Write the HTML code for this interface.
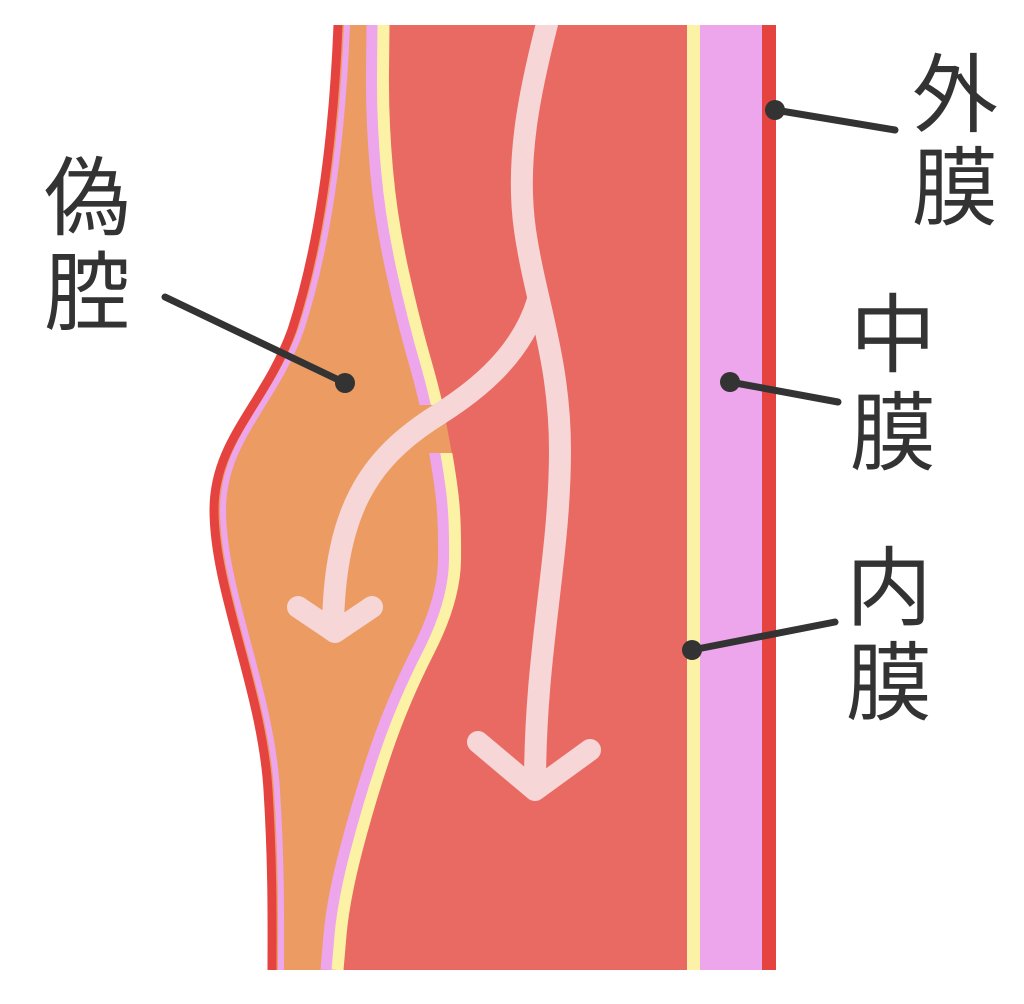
<!DOCTYPE html>
<html><head><meta charset="utf-8"><style>
html,body{margin:0;padding:0;background:#fff;}
svg{display:block}
text{font-family:"Liberation Sans","Noto Sans CJK JP",sans-serif;font-size:86px;fill:#333;}
</style></head><body>
<svg width="1024" height="1004" viewBox="0 0 1024 1004" xmlns="http://www.w3.org/2000/svg">
<defs>
<clipPath id="c"><rect x="0" y="25" width="1024" height="945"/></clipPath>
<clipPath id="g"><rect x="0" y="0" width="1024" height="405"/><rect x="0" y="453" width="1024" height="600"/></clipPath>
</defs>
<g clip-path="url(#c)">
<rect x="200" y="25" width="490" height="945" fill="#E96A63"/>
<g transform="translate(17,0)">
<path fill="#EC9C62" d="M-17,25 L372,25 L371.5,72.5 Q371,120 375.5,170 Q380,220 391,270 Q402,320 413.5,360 Q425,400 431.5,435 Q438,470 441,495 Q444,520 443.5,560 Q443,600 417.5,650 Q392,700 375,750 Q358,800 345,850 Q332,900 329,935 L326,970 L-17,970 Z"/>
</g>
<g clip-path="url(#g)" fill="none">
<path transform="translate(11,0)" stroke="#FBF2A6" stroke-width="13" d="M372,25 L371.5,72.5 Q371,120 375.5,170 Q380,220 391,270 Q402,320 413.5,360 Q425,400 431.5,435 Q438,470 441,495 Q444,520 443.5,560 Q443,600 417.5,650 Q392,700 375,750 Q358,800 345,850 Q332,900 329,935 L326,970"/>
<path stroke="#EDA5EC" stroke-width="11" d="M372,25 L371.5,72.5 Q371,120 375.5,170 Q380,220 391,270 Q402,320 413.5,360 Q425,400 431.5,435 Q438,470 441,495 Q444,520 443.5,560 Q443,600 417.5,650 Q392,700 375,750 Q358,800 345,850 Q332,900 329,935 L326,970"/>
</g>
<path fill="#fff" d="M0,25 L338,25 C333,150 318,250 292,330 C265,405 214,440 214,510 C214,590 262,690 268,790 C273,870 272,930 272,970 L0,970 Z"/>
<path transform="translate(9,0)" fill="none" stroke="#EDA5EC" stroke-width="6" d="M338,25 C333,150 318,250 292,330 C265,405 214,440 214,510 C214,590 262,690 268,790 C273,870 272,930 272,970"/>
<path fill="none" stroke="#E5433F" stroke-width="9" d="M338,25 C333,150 318,250 292,330 C265,405 214,440 214,510 C214,590 262,690 268,790 C273,870 272,930 272,970"/>
<rect x="687" y="25" width="13" height="945" fill="#FBF2A6"/>
<rect x="700" y="25" width="62" height="945" fill="#EDA5EC"/>
<rect x="762" y="25" width="14" height="945" fill="#E5433F"/>
<g fill="none" stroke="#F6D6D6" stroke-width="22" stroke-linecap="round" stroke-linejoin="round">
<path d="M548,20 C530,90 515,160 525,230 C535,300 560,360 560,450 C560,560 535,650 535,785"/>
<path d="M478,742 L535,790 L590,750"/>
<path d="M538,300 C520,360 470,395 430,420 C370,460 335,510 333,625"/>
<path d="M298,607 L335,632 L372,607"/>
</g>
</g>
<g stroke="#333" stroke-width="7" stroke-linecap="round" fill="#333">
<line x1="775" y1="110" x2="895" y2="130"/><circle cx="775" cy="110" r="10" stroke="none"/>
<line x1="730" y1="382" x2="838" y2="402"/><circle cx="730" cy="382" r="10" stroke="none"/>
<line x1="692" y1="650" x2="835" y2="622"/><circle cx="692" cy="650" r="10" stroke="none"/>
<line x1="165" y1="297" x2="345" y2="383"/><circle cx="345" cy="383" r="10" stroke="none"/>
</g>
<text x="912" y="125">外</text>
<text x="912" y="218">膜</text>
<text x="850" y="365">中</text>
<text x="850" y="463">膜</text>
<text x="846" y="618">内</text>
<text x="846" y="713">膜</text>
<text x="44" y="228">偽</text>
<text x="44" y="323">腔</text>
</svg>
</body></html>
